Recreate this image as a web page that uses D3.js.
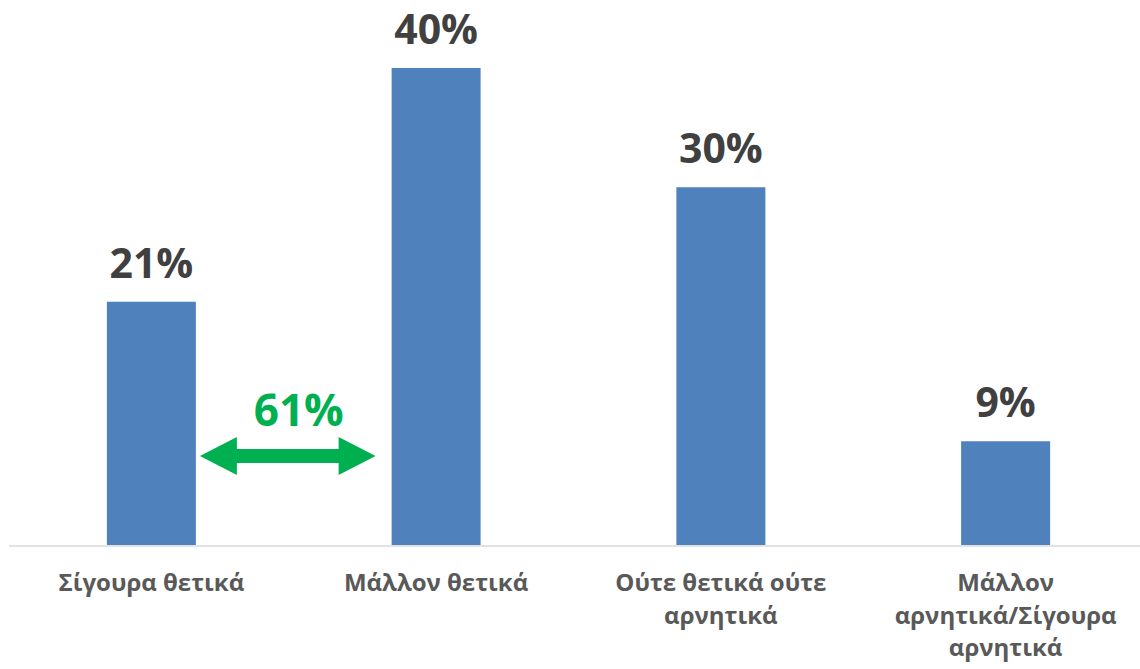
<!DOCTYPE html>
<meta charset='utf-8'>
<head>
  <style>
    body { margin: 0; background: #fff; }
    svg { display: block; }
    .val { font: bold 41px 'Open Sans', sans-serif; fill: #404040; text-anchor: middle; }
    .cat { font: bold 24px 'Open Sans', sans-serif; fill: #595959; text-anchor: middle; }
    .note { font: bold 44px 'Open Sans', sans-serif; fill: #00B050; text-anchor: middle; }
  </style>
</head>
<body>
<script src='https://cdn.jsdelivr.net/npm/d3@7'></script>
<script>

// data
var categories = ['Σίγουρα θετικά', 'Μάλλον θετικά', 'Ούτε θετικά ούτε αρνητικά', 'Μάλλον αρνητικά/Σίγουρα αρνητικά'];
var catLines = [['Σίγουρα θετικά'], ['Μάλλον θετικά'], ['Ούτε θετικά ούτε', 'αρνητικά'], ['Μάλλον', 'αρνητικά/Σίγουρα', 'αρνητικά']];
var values = [20.4, 40, 30, 8.7];
var valueLabels = ['21%', '40%', '30%', '9%'];
var sumLabel = '61%';

var width = 1140, height = 669,
    baseline = 545;

var svg = d3.select('body').append('svg')
    .attr('width', width)
    .attr('height', height);

var x = d3.scaleBand()
    .domain(categories)
    .range([9, 1148])
    .paddingInner(0.6875)
    .paddingOuter(0.34375);

var y = d3.scaleLinear()
    .domain([0, 40])
    .range([baseline, 68]);

var data = categories.map((c, i) => ({cat: c, v: values[i], label: valueLabels[i], lines: catLines[i]}));

// bars
svg.selectAll('.bar')
    .data(data)
  .enter().append('rect')
    .attr('class', 'bar')
    .attr('x', d => x(d.cat))
    .attr('y', d => y(d.v))
    .attr('width', x.bandwidth())
    .attr('height', d => baseline - y(d.v))
    .style('fill', '#4F81BD');

// axis line
svg.append('line')
    .attr('x1', 9).attr('x2', width)
    .attr('y1', baseline + 1).attr('y2', baseline + 1)
    .style('stroke', '#D9D9D9')
    .style('stroke-width', 1.5);

// value labels
svg.selectAll('.val')
    .data(data)
  .enter().append('text')
    .attr('class', 'val')
    .attr('x', d => x(d.cat) + x.bandwidth() / 2)
    .attr('y', d => y(d.v) - 24)
    .text(d => d.label);

// category labels
var cat = svg.selectAll('.cat')
    .data(data)
  .enter().append('text')
    .attr('class', 'cat')
    .attr('x', d => x(d.cat) + x.bandwidth() / 2)
    .attr('y', 591);

cat.selectAll('tspan')
    .data(d => d.lines.map(l => ({l: l, cx: x(d.cat) + x.bandwidth() / 2})))
  .enter().append('tspan')
    .attr('x', d => d.cx)
    .attr('dy', (d, i) => i ? 32.5 : 0)
    .text(d => d.l);

// green double arrow between first two bars
var ax1 = x(categories[0]) + x.bandwidth() + 4,
    ax2 = x(categories[1]) - 16,
    ay = 456, hw = 19, sw = 7, hl = 37;

svg.append('path')
    .attr('d', d3.line()([
      [ax1, ay], [ax1 + hl, ay - hw], [ax1 + hl, ay - sw], [ax2 - hl, ay - sw], [ax2 - hl, ay - hw],
      [ax2, ay], [ax2 - hl, ay + hw], [ax2 - hl, ay + sw], [ax1 + hl, ay + sw], [ax1 + hl, ay + hw]
    ]) + 'Z')
    .style('fill', '#00B050');

svg.append('text')
    .attr('class', 'note')
    .attr('x', (ax1 + ax2) / 2 + 11)
    .attr('y', 426)
    .text(sumLabel);

</script>
</body>
